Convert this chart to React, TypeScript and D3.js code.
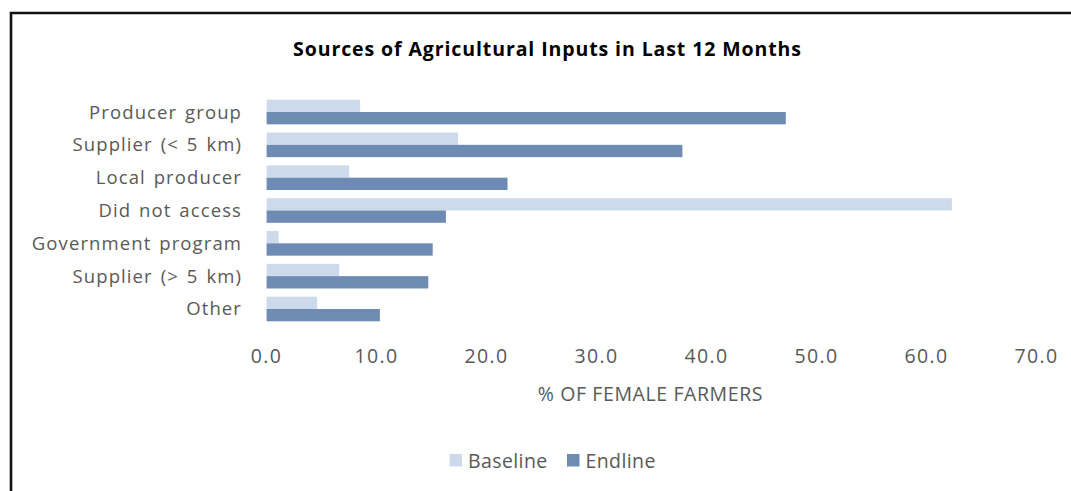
import React from "react";
import * as d3 from "d3";

const categories = [
  "Producer group",
  "Supplier (< 5 km)",
  "Local producer",
  "Did not access",
  "Government program",
  "Supplier (> 5 km)",
  "Other",
];
const seriesNames = ["Baseline", "Endline"];
const baseline = [8.5, 17.4, 7.5, 62.3, 1.1, 6.6, 4.6];
const endline = [47.2, 37.8, 21.9, 16.3, 15.1, 14.7, 10.3];
const xTicks = [0, 10, 20, 30, 40, 50, 60, 70];
const colors = ["#cddaeb", "#6e8bb3"];

const W = 1071;
const H = 491;
const FONT = "'Open Sans', 'DejaVu Sans', sans-serif";

export default function App() {
  const x = d3.scaleLinear().domain([0, 70]).range([266.6, 1036.6]);
  const y = d3
    .scaleBand<string>()
    .domain(categories)
    .range([95.6, 325.4])
    .paddingInner(0.25)
    .paddingOuter(0.125);
  const ySub = d3
    .scaleBand<string>()
    .domain(seriesNames)
    .range([0, y.bandwidth()]);
  const values = [baseline, endline];
  const fmt = d3.format(".1f");

  return (
    <svg
      width={W}
      height={H}
      style={{ position: "absolute", left: 0, top: 0, background: "#fff" }}
      fontFamily={FONT}
    >
      <rect x={0} y={0} width={W} height={H} fill="#fff" />
      {/* chart frame */}
      <path d={`M11,${H + 5} L11,13 L${W + 5},13`} fill="none" stroke="#111" strokeWidth={2.6} />

      <text
        x={547.5}
        y={48}
        textAnchor="middle"
        dominantBaseline="central"
        fontSize={19.5}
        fontWeight={700}
        fill="#000"
        style={{ letterSpacing: "0.9px" }}
      >
        Sources of Agricultural Inputs in Last 12 Months
      </text>

      {categories.map((c, i) => (
        <g key={c}>
          {seriesNames.map((s, k) => (
            <rect
              key={s}
              x={x(0)}
              y={(y(c) as number) + (ySub(s) as number)}
              width={x(values[k][i]) - x(0)}
              height={ySub.bandwidth()}
              fill={colors[k]}
            />
          ))}
          <text
            x={242}
            y={(y(c) as number) + y.bandwidth() / 2 - 1}
            textAnchor="end"
            dominantBaseline="central"
            fontSize={18.5}
            fill="#595959"
            style={{ wordSpacing: "2px", letterSpacing: "1.1px" }}
          >
            {c}
          </text>
        </g>
      ))}

      {xTicks.map((t) => (
        <text
          key={t}
          x={x(t)}
          y={355}
          textAnchor="middle"
          dominantBaseline="central"
          fontSize={19.5}
          fill="#595959"
          style={{ letterSpacing: "1.4px" }}
        >
          {fmt(t)}
        </text>
      ))}

      <text
        x={650.5}
        y={393}
        textAnchor="middle"
        dominantBaseline="central"
        fontSize={19.5}
        fill="#595959"
        style={{ letterSpacing: "0.6px" }}
      >
        % OF FEMALE FARMERS
      </text>

      {seriesNames.map((s, k) => {
        const lx = [449.5, 567][k];
        return (
          <g key={s}>
            <rect x={lx} y={454} width={12.5} height={12.5} fill={colors[k]} />
            <text
              x={lx + 18.5}
              y={460.5}
              dominantBaseline="central"
              fontSize={19.5}
              fill="#595959"
              style={{ letterSpacing: "0.4px" }}
            >
              {s}
            </text>
          </g>
        );
      })}
    </svg>
  );
}
